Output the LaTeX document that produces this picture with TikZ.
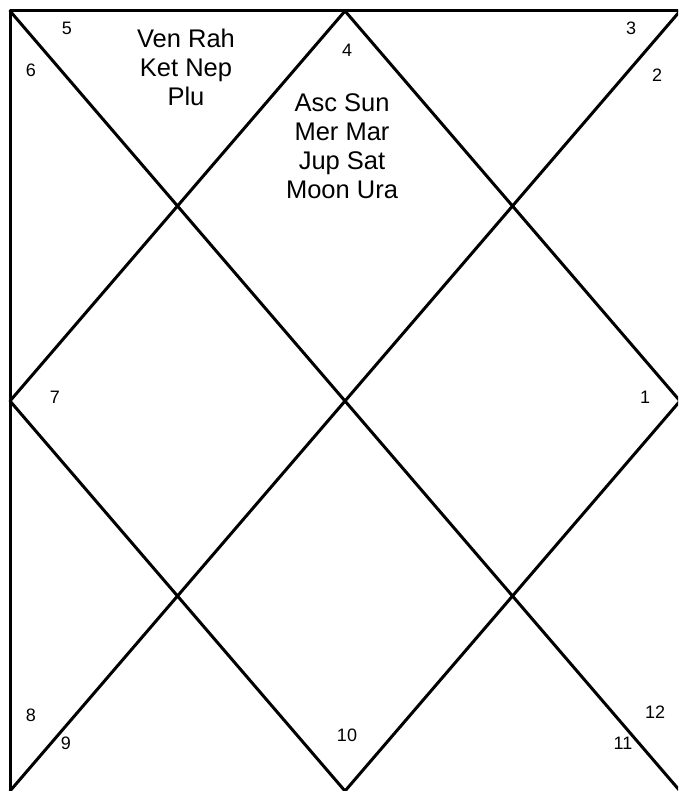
\documentclass[tikz,border=0pt]{standalone}
\usepackage{fontspec}
\setmainfont{Liberation Sans}
\begin{document}
\begin{tikzpicture}[x=1pt,y=-1pt,
  chartline/.style={line width=3pt, line cap=round, line join=round},
  num/.style={font=\fontsize{18}{21}\selectfont, inner sep=0pt},
  planets/.style={font=\fontsize{25.5}{29}\selectfont, align=center, inner sep=0pt}]
\useasboundingbox (0,0) rectangle (678,791);
\fill[white] (0,0) rectangle (678,791);
\begin{scope}
\clip (0,0) rectangle (678,791);
\coordinate (TL) at (10,11);
\coordinate (TR) at (680,11);
\coordinate (BL) at (10,791);
\coordinate (BR) at (680,791);
\coordinate (T) at (345,11);
\coordinate (R) at (680,401);
\coordinate (B) at (345,791);
\coordinate (L) at (10,401);
\draw[chartline] (BL) -- (TL) -- (TR);
\draw[chartline] (TL) -- (BR);
\draw[chartline] (TR) -- (BL);
\draw[chartline] (T) -- (R) -- (B) -- (L) -- cycle;
\end{scope}
\node[num] (n5) at (67,28) {5};
\node[num] (n6) at (31,70) {6};
\node[num] (n3) at (631,28) {3};
\node[num] (n2) at (657,75) {2};
\node[num] (n4) at (347,50) {4};
\node[num] (n7) at (55,397) {7};
\node[num] (n1) at (645,397) {1};
\node[num] (n8) at (31,715) {8};
\node[num] (n9) at (66,743) {9};
\node[num] (n10) at (347,735) {10};
\node[num] (n11) at (623,743) {11};
\node[num] (n12) at (655,712) {12};
\node[planets] (h5) at (186,67) {Ven Rah\\Ket Nep\\Plu};
\node[planets] (h4) at (342,146) {Asc Sun\\Mer Mar\\Jup Sat\\Moon Ura};
\end{tikzpicture}
\end{document}
